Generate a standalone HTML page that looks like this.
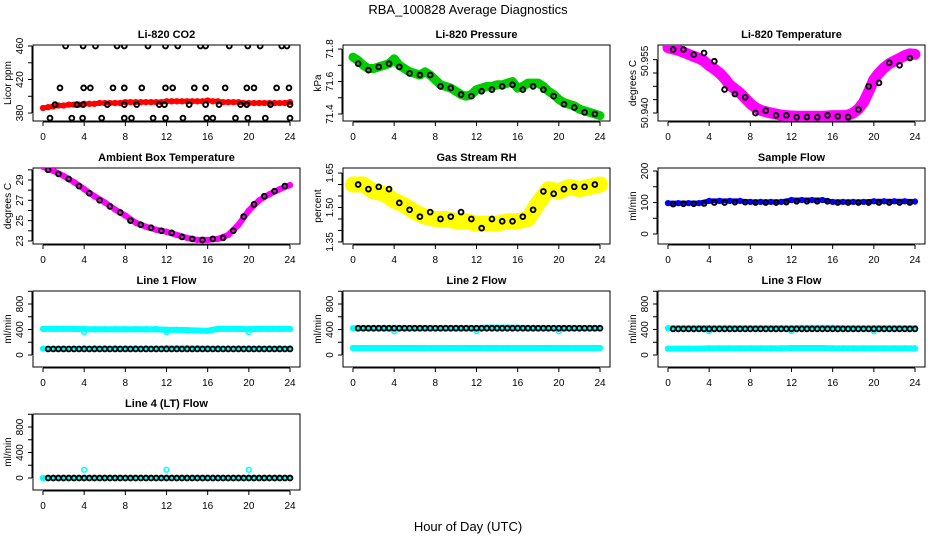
<!DOCTYPE html>
<html><head><meta charset="utf-8"><style>
html,body{margin:0;padding:0;background:#fff;}
svg{display:block;font-family:"Liberation Sans",sans-serif;}
</style></head><body>
<svg id="chart" width="936" height="540" viewBox="0 0 936 540">
<text x="468" y="14" text-anchor="middle" font-size="13">RBA_100828  Average Diagnostics</text>
<text x="468" y="531" text-anchor="middle" font-size="13">Hour of Day (UTC)</text>
</svg>
<script>
// ---- data ----
const xTicks = [0,4,8,12,16,20,24];
const halfHours = [0,0.5,1,1.5,2,2.5,3,3.5,4,4.5,5,5.5,6,6.5,7,7.5,8,8.5,9,9.5,10,10.5,11,11.5,12,12.5,13,13.5,14,14.5,15,15.5,16,16.5,17,17.5,18,18.5,19,19.5,20,20.5,21,21.5,22,22.5,23,23.5,24];
const hours = [0,1,2,3,4,5,6,7,8,9,10,11,12,13,14,15,16,17,18,19,20,21,22,23,24];
const midHours = [0.5,1.5,2.5,3.5,4.5,5.5,6.5,7.5,8.5,9.5,10.5,11.5,12.5,13.5,14.5,15.5,16.5,17.5,18.5,19.5,20.5,21.5,22.5,23.5];
const blackHalf = [0.5,1,1.5,2,2.5,3,3.5,4,4.5,5,5.5,6,6.5,7,7.5,8,8.5,9,9.5,10,10.5,11,11.5,12,12.5,13,13.5,14,14.5,15,15.5,16,16.5,17,17.5,18,18.5,19,19.5,20,20.5,21,21.5,22,22.5,23,23.5,24];

const co2Red = [386,387,388,389,389,390,390,390,391,391,391,392,392,392,392,392,393,393,393,393,393,393,393,393,394,394,394,394,394,394,394,394,395,394,394,393,393,393,393,392,392,392,392,392,392,392,392,392,393];
const co2BlackX = [2.2,3.9,5.1,7.2,7.9,10.2,11.9,13.1,15.3,15.8,18.1,19.9,21.1,23.2,23.7,
 1.65,3.95,4.6,6.8,7.9,9.6,11.9,12.6,14.7,15.8,17.7,19.8,20.5,22.7,23.9,
 1.17,3.3,3.9,6.25,7.9,9.1,11.3,11.8,14.2,15.8,17.1,19.2,19.8,22.1,24,
 0.68,2.8,3.85,5.7,7.9,8.6,10.7,11.9,13.6,15.9,16.5,18.7,19.9,21.6,24];
const co2BlackY = [460,460,460,460,460,460,460,460,460,460,460,460,460,460,460,
 410,410,410,410,410,410,410,410,410,410,410,410,410,410,410,
 390,390,390,390,390,390,390,390,390,390,390,390,390,390,390,
 374,374,374,374,374,374,374,374,374,374,374,374,374,374,374];

const presGreen = [71.75,71.73,71.70,71.68,71.68,71.69,71.70,71.71,71.74,71.70,71.68,71.66,71.65,71.64,71.66,71.64,71.61,71.58,71.57,71.56,71.54,71.52,71.51,71.52,71.55,71.56,71.57,71.57,71.58,71.58,71.59,71.60,71.56,71.57,71.59,71.59,71.59,71.57,71.54,71.52,71.49,71.47,71.46,71.45,71.43,71.42,71.41,71.40,71.39];
const presBlack = [71.71,71.67,71.69,71.71,71.69,71.65,71.64,71.64,71.57,71.56,71.52,71.51,71.54,71.55,71.57,71.58,71.55,71.57,71.55,71.51,71.46,71.44,71.41,71.40];

const tempMag = [50.9645,50.9640,50.9635,50.9628,50.9620,50.9612,50.9605,50.9595,50.9578,50.9565,50.9550,50.9530,50.9505,50.9490,50.9475,50.9455,50.9435,50.9420,50.9410,50.9405,50.9400,50.9396,50.9392,50.9390,50.9389,50.9388,50.9388,50.9388,50.9388,50.9388,50.9388,50.9389,50.9390,50.9390,50.9390,50.9392,50.9400,50.9415,50.9440,50.9480,50.9525,50.9550,50.9570,50.9585,50.9595,50.9605,50.9615,50.9622,50.9620];
const tempBlack = [50.9638,50.9638,50.9619,50.9625,50.9594,50.9488,50.9471,50.9459,50.9400,50.9409,50.9391,50.9391,50.9384,50.9385,50.9384,50.9391,50.9388,50.9385,50.9413,50.9500,50.9513,50.9588,50.9579,50.9606];

const ambMag = [30.3,29.9,29.4,28.8,28.1,27.4,26.8,26.1,25.5,24.8,24.4,24.1,23.9,23.6,23.3,23.1,23.1,23.2,23.6,24.6,26.0,27.0,27.6,28.1,28.5];
const ambBlack = [30.0,29.6,29.1,28.4,27.7,27.0,26.4,25.8,25.0,24.6,24.3,24.0,23.8,23.4,23.2,23.1,23.2,23.3,24.0,25.4,26.6,27.4,27.9,28.4];

const rhYellow = [1.60,1.60,1.57,1.56,1.53,1.51,1.48,1.46,1.45,1.45,1.44,1.44,1.43,1.43,1.43,1.44,1.44,1.45,1.52,1.58,1.57,1.59,1.58,1.59,1.60];
const rhBlack = [1.60,1.58,1.59,1.58,1.52,1.49,1.46,1.48,1.45,1.46,1.48,1.45,1.41,1.45,1.44,1.44,1.46,1.49,1.57,1.56,1.58,1.59,1.59,1.60];

const sfBlue = [98,98,98,98,105,105,105,105,102,102,102,102,108,108,108,108,102,102,102,102,104,104,104,104,103];
const sfBlack = [95,96,96,97,100,100,101,101,100,100,100,101,104,104,104,104,100,100,100,100,100,100,100,100];

const l1CyanHi = [410,410,410,410,405,405,405,405,405,405,405,405,395,395,390,385,380,410,410,410,405,410,410,410,410];
const l1CyanLo = [100,100,100,100,105,105,105,105,105,105,105,105,110,110,110,110,105,105,105,105,105,105,105,105,105];
const l1Black = [95,95,95,95,95,95,95,95,95,95,95,95,95,95,95,95,95,95,95,95,95,95,95,95,95,95,95,95,95,95,95,95,95,95,95,95,95,95,95,95,95,95,95,95,95,95,95,95];
const l1SpikeX = [4,12,20];
const l1SpikeY = [360,360,360];

const l2CyanHi = [420,420,420,420,420,420,420,420,420,420,420,420,420,430,430,430,430,420,420,420,420,420,420,420,420];
const l2CyanLo = [110,110,110,110,110,110,110,110,110,110,110,110,110,110,110,110,110,110,110,110,110,110,110,110,110];
const l2Black = [420,420,420,420,420,420,420,420,420,420,420,420,420,420,420,420,420,420,420,420,420,420,420,420,420,420,420,420,420,420,420,420,420,420,420,420,420,420,420,420,420,420,420,420,420,420,420,420];
const l2SpikeX = [4,12,20];
const l2SpikeY = [375,375,375];

const l3CyanHi = [420,420,420,420,420,420,420,420,420,420,420,420,420,425,425,425,425,420,420,420,420,420,420,420,420];
const l3CyanLo = [100,100,100,100,105,105,105,105,105,105,105,105,110,110,110,110,105,105,105,105,105,105,105,105,105];
const l3Black = [410,410,410,410,410,410,410,410,410,410,410,410,410,410,410,410,410,410,410,410,410,410,410,410,410,410,410,410,410,410,410,410,410,410,410,410,410,410,410,410,410,410,410,410,410,410,410,410];
const l3SpikeX = [4,12,20];
const l3SpikeY = [375,375,375];

const l4Cyan = [0,0,0,0,0,0,0,0,0,0,0,0,0,0,0,0,0,0,0,0,0,0,0,0,0];
const l4Black = [0,0,0,0,0,0,0,0,0,0,0,0,0,0,0,0,0,0,0,0,0,0,0,0,0,0,0,0,0,0,0,0,0,0,0,0,0,0,0,0,0,0,0,0,0,0,0,0];
const l4SpikeX = [4,12,20];
const l4SpikeY = [130,130,130];

const flowTicks = [0,200,400,600,800,1000];
const flowLabels = [0,400,800];

// ---- drawing ----
const NS='http://www.w3.org/2000/svg';
const svg=document.getElementById('chart');
function mk(tag,attrs,parent){const e=document.createElementNS(NS,tag);for(const k in attrs)e.setAttribute(k,attrs[k]);(parent||svg).appendChild(e);return e;}
const COLS=[33,343,658], ROWS=[45,168,291,414], PW=267, PH=76;

function panel(id,col,row,title,ytitle,ymin,ymax,ticks,labels){
  const L=COLS[col],T=ROWS[row];
  const g=mk('g',{});
  
  
  const xs=h=>L+10+h*(247/24);
  const ys=v=>T+PH-(v-ymin)/(ymax-ymin)*PH;
  const box=mk('rect',{x:L,y:T,width:PW,height:PH,fill:'none',stroke:'#000','stroke-width':1},g);
  
  
  const tt=mk('text',{x:L+PW/2,y:T-7,'text-anchor':'middle','font-size':11,'font-weight':'bold'},g);
  tt.textContent=title;
  
  
  const xa=mk('g',{},g);
  
  
  mk('line',{x1:xs(0),x2:xs(24),y1:T+PH+1,y2:T+PH+1,stroke:'#000'},xa);
  xTicks.forEach(t=>{mk('line',{x1:xs(t),x2:xs(t),y1:T+PH+1,y2:T+PH+5,stroke:'#000'},xa);
    const tx=mk('text',{x:xs(t),y:T+PH+19,'text-anchor':'middle','font-size':10},xa);tx.textContent=t;});
  const ya=mk('g',{},g);
  
  
  const inT=ticks.filter(t=>ys(t)>=T-1&&ys(t)<=T+PH+1);
  mk('line',{x1:L-1,x2:L-1,y1:ys(inT[0]),y2:ys(inT[inT.length-1]),stroke:'#000'},ya);
  inT.forEach(t=>mk('line',{x1:L-5,x2:L-1,y1:ys(t),y2:ys(t),stroke:'#000'},ya));
  labels.forEach(lb=>{const y=ys(lb[0]);const tx=mk('text',{x:L-10,y:y,'text-anchor':'middle','font-size':10,transform:`rotate(-90 ${L-10} ${y})`},ya);tx.textContent=lb[1];});
  const yt=mk('text',{x:L-22,y:T+PH/2,'text-anchor':'middle','font-size':10,transform:`rotate(-90 ${L-22} ${T+PH/2})`},g);
  yt.textContent=ytitle;
  
  
  const clip=mk('clipPath',{id:'c'+id},g);mk('rect',{x:L,y:T,width:PW,height:PH},clip);
  const d=mk('g',{'clip-path':`url(#c${id})`},g);
  
  
  return {xs,ys,d};
}
function band(p,xArr,yArr,color,w,name){
  const pts=xArr.map((x,i)=>p.xs(x)+','+p.ys(yArr[i])).join(' ');
  const pl=mk('polyline',{points:pts,fill:'none',stroke:color,'stroke-width':w,'stroke-linejoin':'round','stroke-linecap':'round'},p.d);
  
  
  pts0(p,xArr,yArr,color,name);
}
function pts0(p,xArr,yArr,color,name){
  xArr.forEach((x,i)=>{const c=mk('circle',{cx:p.xs(x),cy:p.ys(yArr[i]),r:2.4,fill:'none',stroke:color,'stroke-width':color==='#000'?1.9:1.5},p.d);
    
    });
}

let p;
p=panel('co2',0,0,'Li-820 CO2','Licor ppm',370.5,461.2,[380,400,420,440,460],[[380,'380'],[420,'420'],[460,'460']]);
band(p,halfHours,co2Red,'#f00',5,'co2-red');
pts0(p,co2BlackX,co2BlackY,'#000','co2-black');

p=panel('pressure',1,0,'Li-820 Pressure','kPa',71.357,71.825,[71.4,71.5,71.6,71.7,71.8],[[71.4,'71.4'],[71.6,'71.6'],[71.8,'71.8']]);
band(p,halfHours,presGreen,'#0c0',9,'pressure-green');
pts0(p,midHours,presBlack,'#000','pressure-black');

p=panel('temperature',2,0,'Li-820 Temperature','degrees C',50.9370,50.9655,[50.940,50.945,50.950,50.955,50.960],[[50.940,'50.940'],[50.9595,'50.955']]);
band(p,halfHours,tempMag,'#f0f',11,'temperature-magenta');
pts0(p,midHours,tempBlack,'#000','temperature-black');

p=panel('ambient',0,1,'Ambient Box Temperature','degrees C',22.7,30.18,[23,24,25,26,27,28,29,30],[[23,'23'],[25,'25'],[27,'27'],[29,'29']]);
band(p,hours,ambMag,'#f0f',6,'ambient-magenta');
pts0(p,midHours,ambBlack,'#000','ambient-black');

p=panel('rh',1,1,'Gas Stream RH','percent',1.341,1.672,[1.35,1.40,1.45,1.50,1.55,1.60,1.65],[[1.35,'1.35'],[1.50,'1.50'],[1.65,'1.65']]);
band(p,hours,rhYellow,'#ff0',16,'rh-yellow');
pts0(p,midHours,rhBlack,'#000','rh-black');

p=panel('sampleflow',2,1,'Sample Flow','ml/min',-31.7,209.5,[0,50,100,150,200],[[0,'0'],[100,'100'],[200,'200']]);
band(p,hours,sfBlue,'#00f',5,'sampleflow-blue');
pts0(p,midHours,sfBlack,'#000','sampleflow-black');

const fl=flowLabels.map(v=>[v,String(v)]);
p=panel('line1',0,2,'Line 1 Flow','ml/min',-188,1004,flowTicks,fl);
band(p,hours,l1CyanHi,'#0ff',6,'line1-cyan-high');
band(p,hours,l1CyanLo,'#0ff',5,'line1-cyan-low');
pts0(p,l1SpikeX,l1SpikeY,'#0ff','line1-cyan-spike');
pts0(p,blackHalf,l1Black,'#000','line1-black');

p=panel('line2',1,2,'Line 2 Flow','ml/min',-188,1004,flowTicks,fl);
band(p,hours,l2CyanHi,'#0ff',6,'line2-cyan-high');
band(p,hours,l2CyanLo,'#0ff',6,'line2-cyan-low');
pts0(p,l2SpikeX,l2SpikeY,'#0ff','line2-cyan-spike');
pts0(p,blackHalf,l2Black,'#000','line2-black');

p=panel('line3',2,2,'Line 3 Flow','ml/min',-188,1004,flowTicks,fl);
band(p,hours,l3CyanHi,'#0ff',6,'line3-cyan-high');
band(p,hours,l3CyanLo,'#0ff',6,'line3-cyan-low');
pts0(p,l3SpikeX,l3SpikeY,'#0ff','line3-cyan-spike');
pts0(p,blackHalf,l3Black,'#000','line3-black');

p=panel('line4',0,3,'Line 4 (LT) Flow','ml/min',-188,1004,flowTicks,fl);
band(p,hours,l4Cyan,'#0ff',5,'line4-cyan');
pts0(p,l4SpikeX,l4SpikeY,'#0ff','line4-cyan-spike');
pts0(p,blackHalf,l4Black,'#000','line4-black');
</script>
</body></html>
